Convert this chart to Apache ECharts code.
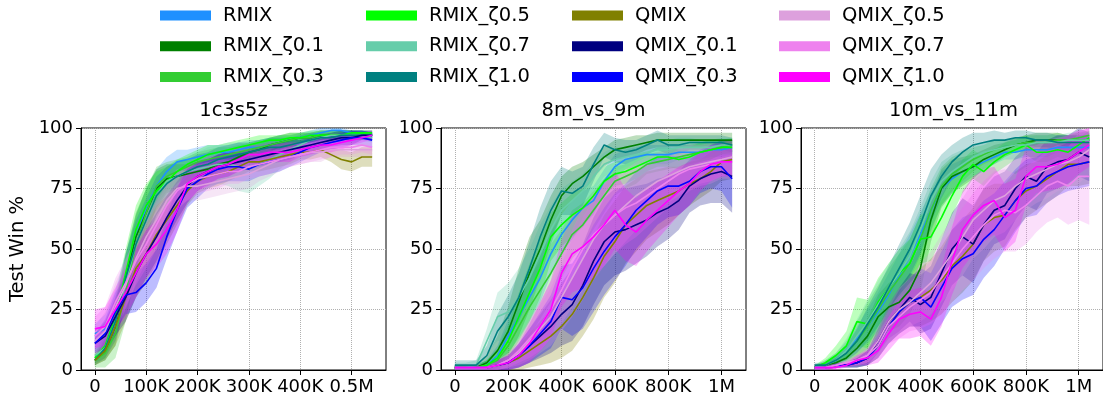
<!DOCTYPE html>
<html>
<head>
<meta charset="utf-8">
<script src="https://cdn.jsdelivr.net/npm/echarts@6/dist/echarts.min.js"></script>
<style>
html, body { margin: 0; padding: 0; background: #fff; }
#chart { width: 1103px; height: 402px; }
</style>
</head>
<body>
<div id="chart"></div>
<script>
// series names / colours (legend order: 4 columns x 3 rows)
const names = ['RMIX', 'RMIX_ζ0.1', 'RMIX_ζ0.3', 'RMIX_ζ0.5', 'RMIX_ζ0.7', 'RMIX_ζ1.0',
	'QMIX', 'QMIX_ζ0.1', 'QMIX_ζ0.3', 'QMIX_ζ0.5', 'QMIX_ζ0.7', 'QMIX_ζ1.0'];
const colors = ['#1e90ff', '#008000', '#32cd32', '#00ff00', '#66cdaa', '#008080',
	'#808000', '#000080', '#0000ff', '#dda0dd', '#ee82ee', '#ff00ff'];

// timesteps
const steps_1c3s5z = [0, 20000, 40000, 60000, 80000, 100000, 120000, 140000, 160000, 180000, 200000,
	220000, 240000, 260000, 280000, 300000, 320000, 340000, 360000, 380000, 400000,
	420000, 440000, 460000, 480000, 500000, 520000, 540000];
const steps_long = [0, 40000, 80000, 120000, 160000, 200000, 240000, 280000, 320000, 360000, 400000,
	440000, 480000, 520000, 560000, 600000, 640000, 680000, 720000, 760000, 800000,
	840000, 880000, 920000, 960000, 1000000, 1040000];

// tick values + labels
const xTicks_short = [0, 100000, 200000, 300000, 400000, 500000];
const xLabels_short = ['0', '100K', '200K', '300K', '400K', '0.5M'];
const xTicks_long = [0, 200000, 400000, 600000, 800000, 1000000];
const xLabels_long = ['0', '200K', '400K', '600K', '800K', '1M'];

// mean test win % (rows follow `names`)
const mean_1c3s5z = [
	[15, 17, 24, 38, 55, 67, 76, 82, 86, 87, 88, 89, 90, 90, 91, 92, 92, 93, 94, 95, 96, 97, 98, 99, 99, 98, 98, 97],
	[4, 8, 18, 38, 55, 65, 75, 79, 80, 81, 82, 83, 85, 86, 88, 90, 91, 93, 94, 95, 96, 96, 97, 97, 97, 97, 97, 97],
	[4, 7, 15, 32, 52, 65, 76, 80, 82, 84, 86, 87, 88, 89, 90, 91, 92, 93, 94, 95, 96, 96, 97, 97, 97, 97, 98, 97],
	[5, 10, 22, 40, 58, 68, 74, 78, 82, 85, 87, 89, 90, 91, 92, 93, 94, 95, 95, 96, 96, 97, 97, 97, 97, 98, 98, 98],
	[6, 9, 20, 36, 52, 62, 72, 78, 80, 82, 83, 84, 85, 85, 84, 83, 85, 87, 89, 91, 93, 95, 96, 97, 97, 97, 97, 96],
	[4, 9, 20, 38, 52, 62, 72, 77, 80, 82, 84, 85, 87, 88, 89, 90, 91, 92, 92, 93, 94, 95, 96, 96, 97, 97, 97, 97],
	[4, 8, 18, 30, 42, 48, 56, 62, 68, 74, 78, 80, 81, 82, 84, 86, 86, 87, 88, 89, 90, 90, 91, 89, 87, 86, 88, 88],
	[11, 14, 22, 30, 40, 48, 55, 63, 70, 76, 80, 82, 84, 85, 86, 87, 88, 89, 90, 91, 92, 93, 94, 95, 96, 96, 97, 97],
	[11, 15, 24, 31, 32, 36, 42, 55, 66, 75, 78, 81, 83, 84, 84, 83, 85, 86, 87, 88, 90, 92, 93, 94, 95, 96, 96, 95],
	[12, 16, 26, 35, 46, 55, 62, 70, 75, 76, 76, 77, 78, 79, 80, 81, 83, 85, 87, 88, 89, 90, 90, 91, 91, 91, 91, 91],
	[14, 18, 28, 36, 45, 52, 60, 68, 74, 77, 79, 80, 81, 82, 82, 84, 85, 86, 87, 88, 89, 90, 91, 92, 92, 92, 93, 92],
	[17, 18, 25, 32, 40, 48, 52, 58, 66, 77, 80, 82, 84, 85, 87, 89, 89, 90, 90, 90, 91, 92, 93, 93, 94, 95, 96, 97]
];
const spread_1c3s5z = [
	[4, 6, 9, 10, 9, 8, 7, 6, 5, 4, 4, 4, 3, 3, 3, 3, 3, 3, 3, 2, 2, 2, 2, 1, 1, 1, 1, 1],
	[2, 4, 8, 10, 10, 10, 8, 6, 5, 4, 4, 4, 4, 4, 3, 3, 3, 3, 3, 3, 2, 2, 2, 2, 2, 2, 1, 1],
	[3, 6, 10, 12, 12, 10, 8, 6, 5, 4, 4, 4, 4, 3, 3, 3, 3, 3, 3, 2, 2, 2, 2, 2, 2, 2, 1, 1],
	[2, 5, 8, 10, 10, 9, 8, 6, 5, 4, 4, 4, 3, 3, 3, 3, 3, 2, 2, 2, 2, 2, 2, 2, 2, 1, 1, 1],
	[3, 5, 8, 10, 10, 9, 8, 7, 6, 6, 7, 8, 8, 9, 10, 10, 9, 8, 6, 5, 4, 3, 3, 2, 2, 2, 2, 2],
	[2, 4, 8, 10, 10, 9, 8, 7, 6, 5, 5, 5, 5, 5, 5, 4, 4, 4, 4, 3, 3, 3, 2, 2, 2, 2, 2, 2],
	[2, 4, 8, 10, 12, 12, 12, 10, 8, 6, 5, 5, 5, 4, 4, 4, 4, 4, 4, 4, 3, 3, 3, 3, 4, 4, 4, 4],
	[4, 6, 8, 10, 10, 10, 10, 9, 8, 7, 6, 5, 5, 5, 4, 4, 4, 4, 4, 4, 3, 3, 3, 3, 3, 3, 2, 2],
	[4, 6, 8, 8, 8, 8, 8, 9, 9, 8, 7, 6, 6, 6, 6, 5, 5, 5, 5, 4, 4, 4, 3, 3, 3, 3, 3, 3],
	[6, 8, 10, 10, 10, 10, 10, 9, 8, 6, 6, 6, 6, 6, 6, 6, 5, 5, 5, 4, 4, 4, 4, 3, 3, 3, 3, 3],
	[8, 8, 10, 10, 10, 10, 10, 9, 8, 7, 6, 6, 6, 5, 5, 5, 5, 5, 4, 4, 4, 4, 4, 4, 3, 3, 3, 3],
	[8, 8, 9, 10, 10, 10, 10, 10, 9, 8, 6, 6, 5, 5, 5, 4, 4, 4, 4, 4, 3, 3, 3, 3, 3, 2, 2, 2]
];

const mean_8m_vs_9m = [
	[1, 1, 1, 2, 6, 14, 22, 30, 38, 48, 56, 62, 67, 70, 78, 84, 87, 88, 89, 89, 89, 90, 90, 90, 91, 91, 92],
	[1, 1, 1, 3, 8, 16, 28, 40, 50, 62, 72, 77, 80, 84, 88, 91, 92, 93, 94, 95, 95, 95, 95, 95, 95, 95, 95],
	[1, 1, 1, 2, 4, 10, 18, 26, 33, 40, 48, 56, 60, 66, 72, 78, 80, 82, 85, 86, 87, 88, 89, 90, 91, 92, 93],
	[1, 1, 1, 2, 5, 12, 22, 32, 42, 55, 60, 64, 67, 72, 78, 81, 82, 84, 86, 88, 88, 87, 88, 90, 91, 92, 92],
	[1, 1, 2, 12, 22, 24, 30, 38, 48, 58, 66, 70, 74, 80, 85, 87, 88, 89, 90, 91, 91, 92, 92, 92, 92, 93, 93],
	[2, 2, 2, 6, 16, 22, 30, 42, 55, 66, 74, 73, 76, 85, 93, 91, 90, 91, 93, 95, 93, 93, 94, 94, 94, 94, 93],
	[1, 1, 1, 1, 2, 3, 5, 8, 11, 14, 18, 23, 30, 38, 47, 53, 60, 64, 68, 70, 72, 74, 77, 79, 82, 86, 87],
	[1, 1, 1, 1, 2, 3, 6, 10, 14, 18, 23, 27, 35, 45, 53, 57, 58, 60, 62, 65, 67, 70, 76, 79, 81, 82, 80],
	[1, 1, 1, 1, 2, 3, 6, 10, 15, 20, 30, 29, 34, 42, 49, 55, 60, 66, 70, 74, 76, 76, 78, 82, 84, 84, 79],
	[1, 1, 1, 1, 2, 4, 7, 12, 17, 22, 30, 38, 46, 54, 60, 64, 68, 72, 75, 78, 80, 82, 84, 85, 86, 87, 88],
	[1, 1, 1, 1, 2, 4, 8, 13, 18, 25, 33, 42, 50, 56, 60, 64, 67, 69, 72, 75, 78, 81, 83, 84, 85, 86, 86],
	[1, 1, 1, 1, 2, 3, 6, 11, 18, 25, 40, 48, 51, 55, 60, 66, 60, 57, 62, 66, 70, 74, 77, 82, 85, 86, 86]
];
const spread_8m_vs_9m = [
	[1, 1, 1, 2, 4, 7, 9, 10, 10, 9, 8, 8, 7, 6, 5, 5, 4, 4, 4, 4, 4, 3, 3, 3, 3, 3, 3],
	[1, 1, 1, 3, 6, 10, 14, 15, 12, 10, 8, 7, 6, 5, 4, 4, 4, 4, 3, 3, 3, 3, 3, 3, 3, 3, 3],
	[1, 1, 1, 2, 4, 7, 10, 12, 12, 12, 10, 10, 9, 8, 7, 6, 5, 5, 4, 4, 4, 4, 4, 4, 4, 3, 3],
	[1, 1, 1, 2, 4, 7, 10, 12, 12, 10, 9, 9, 8, 7, 6, 5, 5, 5, 4, 4, 4, 4, 4, 4, 4, 3, 3],
	[2, 2, 2, 5, 10, 12, 12, 12, 12, 10, 9, 8, 7, 6, 5, 5, 4, 4, 4, 4, 4, 4, 4, 3, 3, 3, 3],
	[2, 2, 2, 4, 7, 9, 10, 11, 12, 12, 10, 9, 8, 7, 5, 5, 5, 4, 4, 4, 4, 4, 3, 3, 3, 3, 3],
	[1, 1, 1, 1, 2, 3, 5, 7, 9, 11, 13, 15, 16, 17, 17, 17, 16, 15, 14, 13, 12, 10, 9, 8, 8, 8, 8],
	[1, 1, 1, 1, 2, 3, 5, 7, 9, 11, 13, 15, 17, 18, 18, 18, 17, 16, 15, 14, 13, 12, 11, 11, 12, 13, 15],
	[1, 1, 1, 1, 2, 3, 5, 7, 9, 11, 13, 15, 17, 18, 18, 18, 17, 16, 15, 14, 13, 12, 10, 9, 9, 10, 12],
	[1, 1, 1, 1, 2, 3, 5, 8, 10, 12, 14, 16, 17, 17, 17, 16, 15, 14, 13, 12, 11, 10, 9, 8, 8, 7, 7],
	[1, 1, 1, 1, 2, 3, 5, 8, 10, 12, 14, 16, 17, 17, 17, 16, 15, 14, 13, 12, 11, 10, 9, 8, 8, 7, 7],
	[1, 1, 1, 1, 2, 3, 5, 8, 10, 12, 14, 16, 17, 17, 17, 16, 15, 14, 13, 12, 11, 10, 9, 8, 7, 6, 6]
];

const mean_10m_vs_11m = [
	[1, 2, 4, 8, 13, 18, 24, 31, 39, 47, 56, 66, 75, 79, 82, 84, 86, 88, 90, 90, 91, 91, 91, 92, 92, 92, 92],
	[1, 2, 3, 5, 9, 14, 22, 26, 28, 33, 42, 62, 75, 80, 82, 84, 87, 89, 91, 93, 94, 95, 95, 95, 95, 95, 95],
	[1, 2, 4, 7, 12, 18, 25, 32, 38, 44, 54, 66, 76, 81, 84, 87, 89, 91, 92, 93, 94, 94, 94, 95, 95, 96, 97],
	[1, 3, 6, 10, 20, 19, 28, 34, 40, 44, 54, 55, 63, 72, 80, 85, 82, 86, 89, 91, 93, 90, 90, 91, 90, 93, 96],
	[1, 2, 4, 8, 14, 20, 27, 34, 40, 47, 58, 70, 78, 82, 85, 88, 90, 91, 92, 93, 93, 94, 94, 94, 95, 95, 95],
	[2, 2, 4, 7, 12, 19, 26, 34, 42, 50, 60, 72, 80, 86, 90, 93, 94, 95, 95, 96, 96, 95, 95, 94, 94, 94, 94],
	[1, 1, 2, 2, 3, 5, 10, 18, 24, 28, 30, 33, 37, 43, 47, 52, 60, 63, 64, 70, 74, 76, 79, 82, 85, 85, 86],
	[1, 1, 2, 2, 3, 5, 12, 20, 25, 30, 27, 30, 40, 50, 55, 52, 60, 66, 68, 75, 80, 78, 84, 86, 87, 90, 88],
	[1, 1, 2, 2, 3, 5, 10, 18, 24, 28, 30, 26, 34, 42, 46, 48, 54, 58, 64, 70, 75, 76, 80, 82, 84, 85, 86],
	[1, 1, 2, 3, 4, 6, 12, 20, 25, 28, 32, 36, 42, 48, 55, 62, 66, 70, 72, 76, 79, 81, 83, 85, 86, 88, 91],
	[1, 1, 2, 3, 4, 6, 10, 18, 22, 26, 29, 32, 38, 44, 50, 55, 60, 64, 66, 65, 68, 72, 76, 78, 76, 80, 80],
	[1, 1, 1, 2, 4, 5, 8, 15, 21, 23, 24, 21, 30, 45, 58, 64, 68, 70, 63, 66, 80, 84, 84, 85, 87, 90, 93]
];
const spread_10m_vs_11m = [
	[1, 1, 2, 3, 5, 7, 8, 9, 9, 9, 9, 8, 7, 6, 5, 4, 4, 3, 3, 3, 3, 3, 3, 2, 2, 2, 2],
	[1, 1, 2, 3, 5, 7, 9, 10, 10, 10, 10, 9, 8, 7, 6, 5, 4, 4, 3, 3, 3, 3, 3, 3, 2, 2, 2],
	[1, 2, 3, 5, 8, 10, 10, 10, 10, 10, 10, 9, 8, 7, 6, 5, 4, 4, 3, 3, 3, 3, 3, 3, 2, 2, 2],
	[1, 2, 4, 6, 10, 10, 10, 10, 10, 10, 10, 10, 9, 8, 7, 6, 6, 5, 5, 4, 4, 4, 4, 3, 3, 3, 3],
	[1, 2, 3, 5, 7, 9, 10, 10, 10, 10, 9, 8, 8, 7, 6, 5, 4, 4, 3, 3, 3, 3, 3, 3, 3, 3, 3],
	[1, 1, 2, 3, 5, 7, 8, 9, 10, 11, 12, 11, 9, 7, 6, 5, 4, 4, 3, 3, 3, 3, 3, 3, 3, 3, 3],
	[1, 1, 1, 1, 2, 3, 5, 7, 9, 10, 12, 13, 14, 15, 15, 15, 15, 14, 13, 12, 11, 10, 10, 10, 9, 9, 9],
	[1, 1, 1, 1, 2, 3, 5, 7, 9, 10, 12, 13, 14, 15, 16, 16, 15, 14, 14, 13, 12, 12, 11, 11, 10, 10, 10],
	[1, 1, 1, 1, 2, 3, 5, 7, 9, 10, 12, 14, 15, 16, 17, 17, 16, 15, 14, 13, 12, 12, 11, 10, 10, 10, 10],
	[1, 1, 1, 1, 2, 3, 5, 7, 9, 10, 12, 13, 14, 15, 16, 16, 16, 15, 15, 14, 13, 12, 12, 11, 11, 11, 10],
	[1, 1, 1, 1, 2, 3, 5, 7, 9, 10, 12, 13, 15, 16, 17, 18, 18, 18, 17, 16, 16, 15, 15, 15, 16, 18, 20],
	[1, 1, 1, 1, 2, 3, 5, 7, 8, 10, 10, 11, 12, 14, 16, 16, 15, 14, 14, 13, 12, 11, 10, 10, 10, 9, 9]
];

const FONT = '"DejaVu Sans", sans-serif';

const panels = [
	{ title: '1c3s5z', steps: steps_1c3s5z, mean: mean_1c3s5z, spread: spread_1c3s5z,
		ticks: xTicks_short, labels: xLabels_short, min: -27000, max: 567000, left: 81 },
	{ title: '8m_vs_9m', steps: steps_long, mean: mean_8m_vs_9m, spread: spread_8m_vs_9m,
		ticks: xTicks_long, labels: xLabels_long, min: -52000, max: 1092000, left: 441 },
	{ title: '10m_vs_11m', steps: steps_long, mean: mean_10m_vs_11m, spread: spread_10m_vs_11m,
		ticks: xTicks_long, labels: xLabels_long, min: -52000, max: 1092000, left: 801 }
];

const GRID_TOP = 128, GRID_W = 305, GRID_H = 242;

let grids = [], xAxes = [], yAxes = [], series = [], graphics = [];

// band polygon: upper edge left->right, lower edge back right->left
function bandRenderer(lower, upper, color) {
	return function(params, api) {
		if (params.dataIndex !== 0) return null;
		let pts = [];
		for (let k = 0; k < upper.length; k++) pts.push(api.coord(upper[k]));
		for (let k = lower.length - 1; k >= 0; k--) pts.push(api.coord(lower[k]));
		return {
			type: 'polygon',
			shape: { points: pts },
			style: { fill: color, opacity: 0.26 }
		};
	};
}

panels.forEach(function(p, pi) {
	grids.push({
		left: p.left, top: GRID_TOP, width: GRID_W, height: GRID_H,
		show: true, borderColor: '#000', borderWidth: 1, backgroundColor: 'transparent'
	});
	xAxes.push({
		type: 'value', gridIndex: pi, min: p.min, max: p.max,
		axisLine: { show: true, onZero: false, lineStyle: { color: '#000', width: 1 } },
		axisTick: { show: true, length: 5, customValues: p.ticks, lineStyle: { color: '#000', width: 1 } },
		axisLabel: {
			customValues: p.ticks, color: '#000', fontSize: 18, fontFamily: FONT, margin: 8,
			formatter: function(v) { return p.labels[p.ticks.indexOf(v)]; }
		},
		splitLine: { show: true, lineStyle: { type: 'dotted', color: '#b0b0b0', width: 1 } }
	});
	yAxes.push({
		type: 'value', gridIndex: pi, min: 0, max: 100, interval: 25,
		axisLine: { show: true, onZero: false, lineStyle: { color: '#000', width: 1 } },
		axisTick: { show: true, length: 5, lineStyle: { color: '#000', width: 1 } },
		axisLabel: { color: '#000', fontSize: 18, fontFamily: FONT, margin: 8 },
		splitLine: { show: true, lineStyle: { type: 'dotted', color: '#b0b0b0', width: 1 } }
	});
	graphics.push({
		type: 'text', x: p.left + GRID_W / 2, y: 111,
		style: { text: p.title, fontSize: 19.5, fontFamily: FONT, fill: '#000', align: 'center', verticalAlign: 'middle' }
	});

	// shaded bands first
	names.forEach(function(name, si) {
		let lower = [], upper = [];
		p.steps.forEach(function(x, k) {
			lower.push([x, Math.max(0, p.mean[si][k] - p.spread[si][k])]);
			upper.push([x, Math.min(100, p.mean[si][k] + p.spread[si][k])]);
		});
		series.push({
			name: name + ' band', type: 'custom', xAxisIndex: pi, yAxisIndex: pi,
			data: upper, silent: true, z: 1, clip: true,
			renderItem: bandRenderer(lower, upper, colors[si])
		});
	});
	// mean lines on top
	names.forEach(function(name, si) {
		series.push({
			name: name, type: 'line', xAxisIndex: pi, yAxisIndex: pi,
			data: p.steps.map(function(x, k) { return [x, p.mean[si][k]]; }),
			symbol: 'none', z: 3, color: colors[si],
			itemStyle: { color: colors[si] },
			lineStyle: { color: colors[si], width: 1.6 }
		});
	});
});

graphics.push({
	type: 'text', x: 18, y: 249, rotation: Math.PI / 2,
	style: { text: 'Test Win %', fontSize: 19.5, fontFamily: FONT, fill: '#000', align: 'center', verticalAlign: 'middle' }
});

const legendLeft = [160, 366, 572, 779];
let legends = [0, 1, 2, 3].map(function(ci) {
	return {
		orient: 'vertical', left: legendLeft[ci], top: 5.5, padding: 0,
		itemGap: 10.8, itemWidth: 51, itemHeight: 10, icon: 'rect', selectedMode: false,
		data: names.slice(ci * 3, ci * 3 + 3),
		textStyle: { fontSize: 19.5, fontFamily: FONT, color: '#000', lineHeight: 20, padding: [0, 0, 0, 7] }
	};
});

let myChart = echarts.init(document.getElementById('chart'), null, { renderer: 'canvas' });
myChart.setOption({
	animation: false,
	backgroundColor: '#fff',
	grid: grids,
	xAxis: xAxes,
	yAxis: yAxes,
	legend: legends,
	graphic: graphics,
	series: series
});
</script>
</body>
</html>
